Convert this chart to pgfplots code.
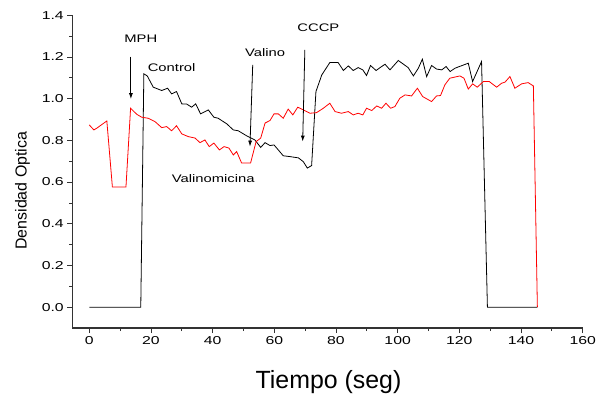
\documentclass[border=0pt]{standalone}
\usepackage{pgfplots}
\pgfplotsset{compat=1.18}
\usetikzlibrary{arrows.meta}
\usepackage{fontspec}
\setmainfont{Liberation Sans}
\newfontfamily\tickfont[FakeStretch=1.38]{Liberation Sans}
\newfontfamily\annfont[FakeStretch=1.35]{Liberation Sans}
\begin{document}
\begin{tikzpicture}[x=1bp,y=1bp]
\useasboundingbox (0,0) rectangle (597,393);
\begin{axis}[
  at={(72.3bp,65bp)}, anchor=south west,
  scale only axis, width=510.4bp, height=312.75bp,
  xmin=-5.5, xmax=160, ymin=-0.1, ymax=1.4,
  axis x line*=bottom, axis y line*=left,
  axis line style={line width=1.1pt, black!80},
  xtick={0,20,...,160}, ytick={0,0.2,...,1.4},
  minor x tick num=1, minor y tick num=1,
  tick align=outside, major tick length=5bp, minor tick length=3bp,
  tick style={black!80, line width=0.8pt},
  /pgf/number format/assume math mode=true,
  yticklabel style={/pgf/number format/.cd, fixed, fixed zerofill, precision=1},
  ticklabel style={font={\tickfont\fontsize{11.5}{13}\selectfont}},
  xlabel={Tiempo (seg)}, ylabel={Densidad Optica},
  xlabel style={font=\fontsize{25}{28}\selectfont, at={(axis description cs:0.502,-0.1928)}, anchor=base},
  ylabel style={font=\fontsize{16}{18}\selectfont, at={(axis description cs:-0.0976,0.439)}, anchor=center, rotate=0},
  clip=false,
]
\addplot[black, line width=0.8pt] coordinates {
(0,0) (16.7,0) (17.7,1.119) (18.8,1.109) (20.75,1.055) (23.5,1.039) (25.4,1.050) (26.7,1.023) (28.3,1.034) (30.0,0.975) (31.6,0.974) (33.2,0.959) (34.5,0.975) (36.1,0.927) (38.6,0.946) (40.4,0.911) (41.8,0.906) (44.6,0.879) (46.7,0.850) (48.3,0.846) (51.0,0.822) (53.7,0.802) (55.6,0.766) (57.0,0.789) (58.6,0.775) (59.9,0.778) (61.3,0.754) (62.9,0.726) (65.1,0.722) (67.8,0.716) (69.4,0.698) (70.7,0.667) (72.1,0.679) (73.5,1.034) (75.4,1.114) (78.0,1.173) (80.7,1.173) (82.4,1.135) (84.0,1.157) (85.6,1.135) (87.2,1.149) (88.7,1.138) (89.9,1.111) (91.2,1.159) (93.0,1.135) (94.6,1.152) (95.9,1.165) (97.5,1.138) (100.2,1.183) (103.4,1.149) (105.1,1.109) (106.7,1.146) (108.0,1.189) (109.4,1.106) (111.0,1.159) (112.6,1.142) (114.3,1.138) (115.7,1.154) (117.0,1.130) (118.6,1.146) (120.0,1.154) (122.9,1.170) (124.3,1.082) (127.2,1.178) (129.1,0) (145.3,0)
};
\addplot[red, line width=0.8pt] coordinates {
(0,0.874) (1.5,0.850) (2.4,0.858) (5.7,0.893) (7.5,0.576) (11.9,0.576) (13.4,0.954) (15.4,0.925) (17.0,0.911) (19.1,0.906) (21.3,0.890) (23.5,0.861) (25.1,0.866) (26.7,0.846) (28.3,0.870) (30.0,0.831) (32.1,0.818) (34.3,0.811) (35.9,0.789) (37.5,0.802) (38.9,0.770) (40.4,0.787) (42.2,0.754) (43.7,0.770) (45.3,0.763) (46.7,0.730) (47.8,0.746) (49.4,0.691) (52.3,0.691) (54.1,0.794) (55.6,0.811) (57.0,0.883) (58.6,0.895) (59.9,0.927) (61.3,0.927) (62.9,0.906) (64.5,0.950) (66.0,0.922) (67.6,0.959) (69.4,0.946) (71.6,0.930) (73.7,0.933) (75.9,0.954) (78.0,0.978) (79.7,0.938) (81.8,0.930) (84.0,0.938) (85.6,0.922) (87.2,0.930) (88.7,0.922) (89.9,0.954) (91.6,0.943) (93.2,0.965) (94.8,0.954) (96.2,0.978) (97.7,0.954) (99.1,0.962) (100.7,1.002) (102.4,1.018) (104.5,1.013) (106.4,1.050) (108.1,1.010) (111.0,0.986) (112.6,1.013) (113.9,1.015) (115.3,1.066) (116.9,1.098) (120.2,1.109) (121.5,1.098) (122.9,1.046) (124.3,1.071) (125.8,1.055) (127.8,1.082) (129.7,1.082) (132.1,1.055) (133.7,1.074) (134.8,1.079) (136.4,1.106) (138.0,1.050) (140.2,1.071) (142.3,1.077) (144.0,1.061) (145.3,0)
};
\begin{scope}[font={\annfont\fontsize{11}{13}\selectfont}]
\node at (axis cs:16.7,1.287) {MPH};
\node at (axis cs:26.7,1.149) {Control};
\node at (axis cs:57.0,1.221) {Valino};
\node at (axis cs:40.2,0.619) {Valinomicina};
\node at (axis cs:74.3,1.338) {CCCP};
\end{scope}
\draw[-{Latex[length=6bp,width=4bp]}, line width=0.8pt] (axis cs:13.5,1.202) -- (axis cs:13.5,0.998);
\draw[-{Latex[length=6bp,width=4bp]}, line width=0.8pt] (axis cs:53.0,1.162) -- (axis cs:52.1,0.770);
\draw[-{Latex[length=6bp,width=4bp]}, line width=0.8pt] (axis cs:69.9,1.234) -- (axis cs:69.2,0.794);
\end{axis}
\end{tikzpicture}
\end{document}
